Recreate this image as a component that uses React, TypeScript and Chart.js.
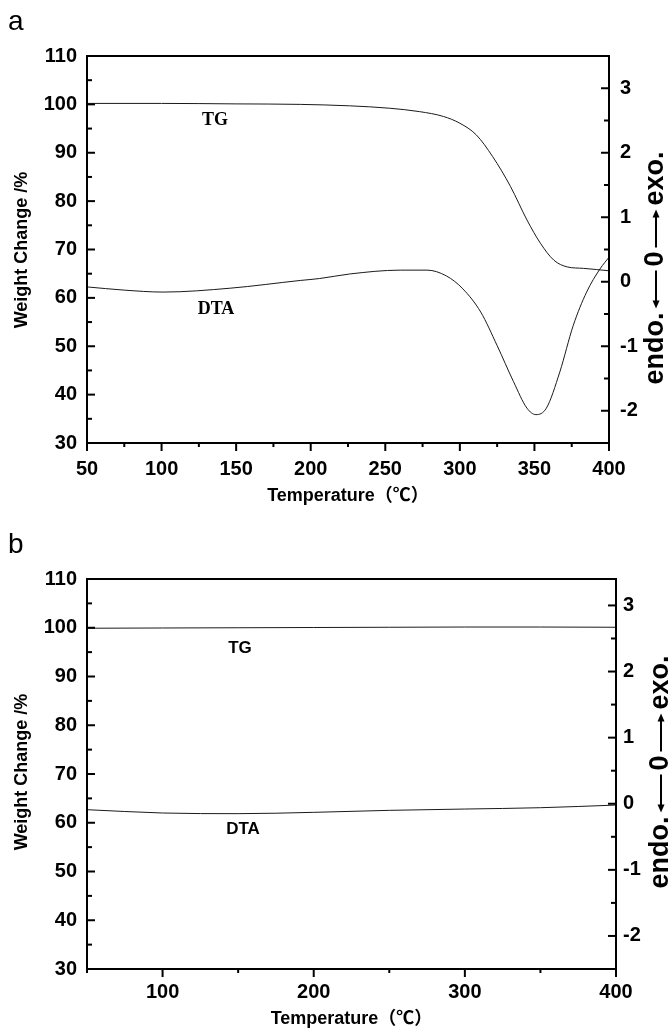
import React, { useEffect, useRef } from "react";
import { Chart, registerables } from "chart.js";

Chart.register(...registerables);

// ---------- Panel a data ----------
const tgTempA = [50, 100, 150, 193, 226, 253, 273, 289, 300, 311, 322, 334, 345, 354, 363, 372, 383, 400];
const tgWeightA = [100.2, 100.2, 100.1, 100.0, 99.7, 99.2, 98.5, 97.5, 96.1, 93.7, 89.2, 83.0, 76.1, 71.3, 67.8, 66.4, 66.1, 65.6];
const dtaTempA = [50, 75, 101, 146, 193, 206, 226, 260, 278, 291, 302, 314, 325, 336, 345, 351, 358, 367, 376, 385, 394, 400];
const dtaSignalA = [-0.08, -0.13, -0.16, -0.1, 0.02, 0.05, 0.12, 0.18, 0.18, 0.09, -0.11, -0.47, -0.99, -1.55, -1.96, -2.06, -1.96, -1.4, -0.68, -0.16, 0.2, 0.38];
const xTicksA = [50, 100, 150, 200, 250, 300, 350, 400];

// ---------- Panel b data ----------
const tgTempB = [50, 100, 150, 200, 250, 300, 350, 400];
const tgWeightB = [99.9, 99.95, 100.0, 100.05, 100.1, 100.15, 100.15, 100.1];
const dtaTempB = [50, 100, 150, 200, 250, 300, 350, 400];
const dtaSignalB = [-0.09, -0.14, -0.15, -0.13, -0.1, -0.08, -0.06, -0.02];
const xTicksB = [100, 200, 300, 400];

// ---------- shared ticks ----------
const yTicksLeft = [30, 40, 50, 60, 70, 80, 90, 100, 110];
const yTicksRight = [-2, -1, 0, 1, 2, 3];

const SANS = '"Liberation Sans", Arial, "Noto Sans CJK SC", sans-serif';
const SERIF = '"Liberation Serif", "Times New Roman", serif';

type PanelCfg = {
  letter: string;
  letterY: number;
  padTop: number;
  xHeight: number;
  rightW: number;
  rightPad: number;
  xTicks: number[];
  xMinorStep: number;
  xLabelPad: number;
  rMin: number;
  rMax: number;
  tgT: number[];
  tgW: number[];
  dtaT: number[];
  dtaV: number[];
  serifNotes: boolean;
  tgPos: [number, number];
  dtaPos: [number, number];
  xTitleY: number;
  yTitleY: number;
  rTitle: [number, number];
};

function drawRightTitle(ctx: CanvasRenderingContext2D, cx: number, cy: number, arrowLen: number) {
  ctx.save();
  ctx.translate(cx, cy);
  ctx.rotate(-Math.PI / 2);
  ctx.font = `bold 27px ${SANS}`;
  ctx.fillStyle = "#000";
  ctx.strokeStyle = "#000";
  ctx.textBaseline = "middle";
  ctx.textAlign = "left";
  const p1 = "endo.";
  const p2 = "0";
  const p3 = "exo.";
  const w1 = ctx.measureText(p1).width;
  const w2 = ctx.measureText(p2).width;
  const w3 = ctx.measureText(p3).width;
  const gap = 4;
  const total = w1 + w2 + w3 + 2 * arrowLen + 4 * gap;
  let x = -total / 2;
  ctx.fillText(p1, x, 0);
  x += w1 + gap;
  ctx.lineWidth = 2;
  ctx.beginPath();
  ctx.moveTo(x + 3, 0);
  ctx.lineTo(x + arrowLen, 0);
  ctx.stroke();
  ctx.beginPath();
  ctx.moveTo(x, 0);
  ctx.lineTo(x + 8, -3.5);
  ctx.lineTo(x + 8, 3.5);
  ctx.closePath();
  ctx.fill();
  x += arrowLen + gap;
  ctx.fillText(p2, x, 0);
  x += w2 + gap;
  ctx.beginPath();
  ctx.moveTo(x, 0);
  ctx.lineTo(x + arrowLen - 3, 0);
  ctx.stroke();
  ctx.beginPath();
  ctx.moveTo(x + arrowLen, 0);
  ctx.lineTo(x + arrowLen - 8, -3.5);
  ctx.lineTo(x + arrowLen - 8, 3.5);
  ctx.closePath();
  ctx.fill();
  x += arrowLen + gap;
  ctx.fillText(p3, x, 0);
  ctx.restore();
}

function makeDecor(cfg: PanelCfg) {
  return {
    id: "decor",
    afterDraw(chart: any) {
      const { ctx, chartArea: a, scales } = chart;
      const xs = scales.x;
      const yl = scales.y;
      const yr = scales.y1;
      ctx.save();
      ctx.strokeStyle = "#000";
      ctx.lineWidth = 2;
      ctx.strokeRect(a.left, a.top, a.right - a.left, a.bottom - a.top);
      // left axis ticks (inward)
      for (let v = 30; v <= 110.001; v += 5) {
        const py = yl.getPixelForValue(v);
        const major = Math.abs(v % 10) < 1e-6;
        ctx.beginPath();
        ctx.moveTo(a.left, py);
        ctx.lineTo(a.left + (major ? 8 : 5), py);
        ctx.stroke();
      }
      // right axis ticks (inward)
      for (let v = Math.ceil(cfg.rMin * 2) / 2; v <= cfg.rMax + 0.001; v += 0.5) {
        const py = yr.getPixelForValue(v);
        const major = Math.abs(v - Math.round(v)) < 1e-6;
        ctx.beginPath();
        ctx.moveTo(a.right, py);
        ctx.lineTo(a.right - (major ? 8 : 5), py);
        ctx.stroke();
      }
      // x axis ticks (outward)
      for (let v = 50; v <= 400.001; v += cfg.xMinorStep) {
        const px = xs.getPixelForValue(v);
        const major = cfg.xTicks.includes(v);
        ctx.beginPath();
        ctx.moveTo(px, a.bottom);
        ctx.lineTo(px, a.bottom + (major ? 8 : 4));
        ctx.stroke();
      }
      // titles
      ctx.fillStyle = "#000";
      ctx.font = `bold 18px ${SANS}`;
      ctx.textAlign = "center";
      ctx.textBaseline = "middle";
      ctx.fillText("Temperature（℃）", (a.left + a.right) / 2, cfg.xTitleY);
      ctx.save();
      ctx.translate(22, cfg.yTitleY);
      ctx.rotate(-Math.PI / 2);
      ctx.fillText("Weight Change /%", 0, 0);
      ctx.restore();
      drawRightTitle(ctx, cfg.rTitle[0], cfg.rTitle[1], 38);
      // panel letter
      ctx.font = `28px ${SANS}`;
      ctx.textAlign = "left";
      ctx.textBaseline = "alphabetic";
      ctx.fillText(cfg.letter, 8, cfg.letterY);
      // curve notes
      ctx.font = cfg.serifNotes ? `bold 18px ${SERIF}` : `bold 17px ${SANS}`;
      ctx.textAlign = "center";
      ctx.textBaseline = "middle";
      ctx.fillText("TG", cfg.tgPos[0], cfg.tgPos[1]);
      ctx.fillText("DTA", cfg.dtaPos[0], cfg.dtaPos[1]);
      ctx.restore();
    },
  };
}

function Panel({ cfg, top }: { cfg: PanelCfg; top: number }) {
  const ref = useRef<HTMLCanvasElement>(null);
  useEffect(() => {
    const tickFont = { family: SANS, size: 20, weight: "bold" as const };
    const noGrid = { display: false, drawTicks: false };
    const chart = new Chart(ref.current!, {
      type: "line",
      data: {
        datasets: [
          {
            label: "TG",
            data: cfg.tgT.map((t, i) => ({ x: t, y: cfg.tgW[i] })),
            yAxisID: "y",
            borderColor: "#1a1a1a",
            borderWidth: 1,
            pointRadius: 0,
            cubicInterpolationMode: "monotone",
            fill: false,
          },
          {
            label: "DTA",
            data: cfg.dtaT.map((t, i) => ({ x: t, y: cfg.dtaV[i] })),
            yAxisID: "y1",
            borderColor: "#1a1a1a",
            borderWidth: 1,
            pointRadius: 0,
            cubicInterpolationMode: "monotone",
            fill: false,
          },
        ],
      },
      options: {
        responsive: false,
        animation: false,
        events: [],
        layout: { padding: { top: cfg.padTop, left: 0, right: 0, bottom: 0 } },
        plugins: { legend: { display: false }, tooltip: { enabled: false } },
        scales: {
          x: {
            type: "linear",
            position: "bottom",
            min: 50,
            max: 400,
            grid: noGrid,
            border: { display: false },
            ticks: { font: tickFont, color: "#000", padding: cfg.xLabelPad, autoSkip: false, maxRotation: 0 },
            afterBuildTicks: (s: any) => {
              s.ticks = cfg.xTicks.map((v) => ({ value: v }));
            },
            afterFit: (s: any) => {
              s.height = cfg.xHeight;
            },
          },
          y: {
            type: "linear",
            position: "left",
            min: 30,
            max: 110,
            grid: noGrid,
            border: { display: false },
            ticks: { font: tickFont, color: "#000", padding: 10 },
            afterBuildTicks: (s: any) => {
              s.ticks = yTicksLeft.map((v) => ({ value: v }));
            },
            afterFit: (s: any) => {
              s.width = 87;
            },
          },
          y1: {
            type: "linear",
            position: "right",
            min: cfg.rMin,
            max: cfg.rMax,
            grid: noGrid,
            border: { display: false },
            ticks: { font: tickFont, color: "#000", padding: cfg.rightPad },
            afterBuildTicks: (s: any) => {
              s.ticks = yTicksRight.map((v) => ({ value: v }));
            },
            afterFit: (s: any) => {
              s.width = cfg.rightW;
            },
          },
        },
      },
      plugins: [makeDecor(cfg)],
    } as any);
    return () => chart.destroy();
  }, [cfg]);
  return (
    <canvas
      ref={ref}
      width={672}
      height={514}
      style={{ position: "absolute", left: 0, top, width: 672, height: 514, display: "block" }}
    />
  );
}

const cfgA: PanelCfg = {
  letter: "a",
  letterY: 30,
  padTop: 56,
  xHeight: 514 - 443,
  rightW: 672 - 609,
  rightPad: 11,
  xTicks: xTicksA,
  xMinorStep: 25,
  xLabelPad: 14,
  rMin: -2.5,
  rMax: 3.5,
  tgT: tgTempA,
  tgW: tgWeightA,
  dtaT: dtaTempA,
  dtaV: dtaSignalA,
  serifNotes: true,
  tgPos: [215, 120],
  dtaPos: [216, 309],
  xTitleY: 496,
  yTitleY: 250,
  rTitle: [656, 268],
};

const cfgB: PanelCfg = {
  letter: "b",
  letterY: 553 - 514,
  padTop: 579 - 514,
  xHeight: 514 - (969 - 514),
  rightW: 672 - 616,
  rightPad: 7,
  xTicks: xTicksB,
  xMinorStep: 50,
  xLabelPad: 11,
  rMin: -2.5,
  rMax: 3.4,
  tgT: tgTempB,
  tgW: tgWeightB,
  dtaT: dtaTempB,
  dtaV: dtaSignalB,
  serifNotes: false,
  tgPos: [240, 648 - 514],
  dtaPos: [243, 829 - 514],
  xTitleY: 1019 - 514,
  yTitleY: 772 - 514,
  rTitle: [661, 772 - 514],
};

export default function App() {
  return (
    <div style={{ position: "absolute", left: 0, top: 0, width: 672, height: 1028, background: "#fff" }}>
      <Panel cfg={cfgA} top={0} />
      <Panel cfg={cfgB} top={514} />
    </div>
  );
}
